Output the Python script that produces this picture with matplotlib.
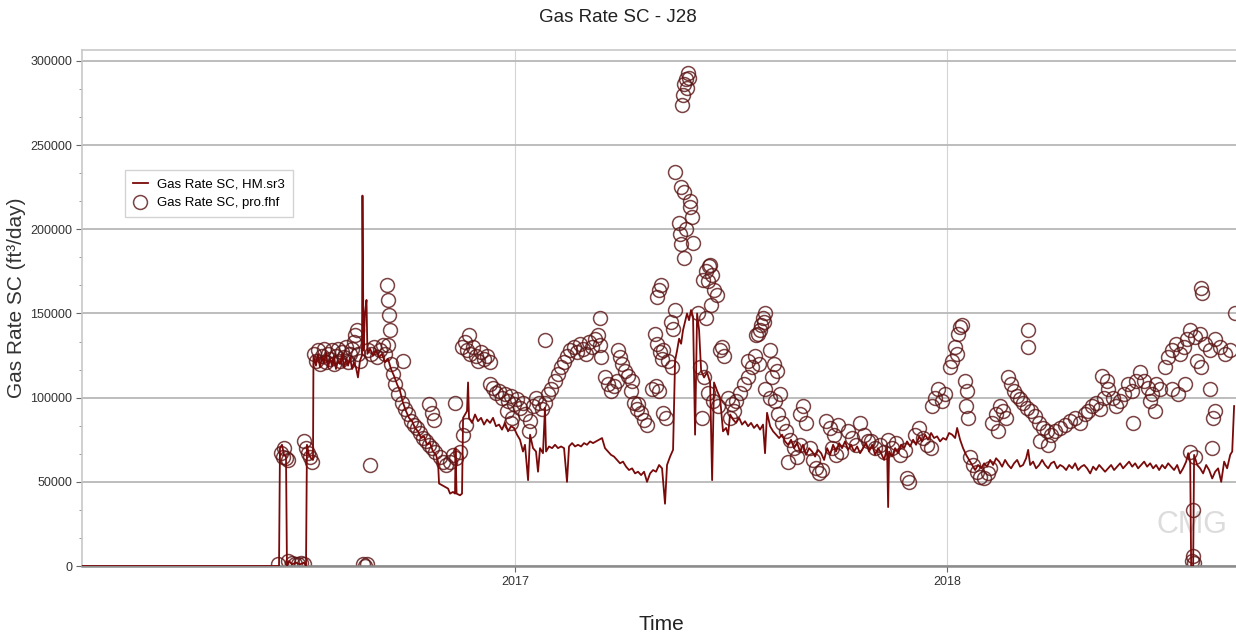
import numpy as np
import pandas as pd
import matplotlib
matplotlib.use("Agg")
import matplotlib.pyplot as plt
from matplotlib.ticker import AutoMinorLocator, MultipleLocator

# Time is kept as days since 2016-01-01, rates in thousand ft3/day
START = "2016-01-01"

# Simulated gas rate (HM.sr3)
hm_days = [
    0, 166.5, 167.3, 169, 170.7, 172.4, 173.2, 174.9, 177.5, 180.8, 184.2, 187.6, 189.3, 190.1, 191.8, 193.5,
    195.2, 195.6, 197.7, 199.4, 201.1, 202.8, 204.5, 206.2, 207.9, 209.6, 211.3, 212.9, 214.6, 216.3, 218,
    219.7, 221.4, 223.1, 224.8, 226.5, 228.2, 229.8, 231.5, 233.2, 234.9, 236.6, 237, 237.9, 239.1, 240.4,
    241.2, 243.4, 245.9, 248.4, 251, 253.5, 256, 258.6, 261.1, 263.6, 266.2, 268.7, 271.2, 273.8, 276.3,
    278.9, 281.4, 283.9, 286.5, 289, 291.5, 294.1, 296.6, 299.1, 300.8, 301.7, 304.2, 306.7, 309.3, 311,
    313.5, 315.2, 315.6, 316.5, 319.4, 321.1, 322, 323.6, 325.3, 326.2, 327, 329.6, 332.1, 334.6, 337.2,
    339.7, 342.2, 344.8, 347.3, 349.8, 352.4, 354.9, 357.4, 360, 362.5, 365, 367.6, 370.1, 372.6, 374.3,
    376.9, 378.6, 381.1, 383.6, 385.3, 387, 389.5, 391.2, 392.1, 394.6, 397.2, 399.7, 402.2, 404.8, 407.3,
    409.8, 411.5, 414.1, 416.6, 419.1, 421.7, 424.2, 426.7, 429.3, 431.8, 434.3, 436.9, 439.4, 441.9, 444.5,
    447, 449.5, 452.1, 454.6, 457.1, 459.7, 462.2, 464.8, 467.3, 469.8, 472.4, 474.9, 477.4, 480, 482.5,
    485, 487.6, 490.1, 492.6, 494.3, 496.9, 499.4, 501.1, 502.8, 504.5, 506.2, 507.8, 509.5, 511.2, 512.9,
    514.6, 516.3, 518, 519.7, 521.4, 523.1, 525.6, 528.1, 530.7, 532.4, 534, 536.6, 539.1, 541.6, 544.2,
    545.9, 547.6, 550.1, 552.6, 555.2, 557.7, 560.2, 562.8, 565.3, 567.8, 570.4, 572.9, 575.4, 577.1, 578.8,
    581.4, 583.9, 586.4, 589, 591.5, 594, 596.6, 599.1, 601.6, 604.2, 606.7, 609.2, 611.8, 614.3, 616.9,
    619.4, 621.9, 624.5, 627, 629.5, 632.1, 634.6, 637.1, 639.7, 642.2, 644.7, 647.3, 649.8, 652.3, 654.9,
    657.4, 659.9, 662.5, 665, 667.6, 670.1, 672.6, 675.2, 677.7, 680.2, 681.1, 681.9, 684.5, 687, 689.5,
    692.1, 694.6, 697.1, 699.7, 702.2, 704.7, 707.3, 709.8, 712.3, 714.9, 717.4, 719.9, 722.5, 725, 727.5,
    730.1, 732.6, 735.2, 737.7, 739.4, 741.9, 744.4, 747, 749.5, 752, 754.6, 757.1, 759.7, 762.2, 764.7,
    767.3, 769.8, 772.3, 774.9, 777.4, 779.9, 782.5, 785, 787.5, 790.1, 792.6, 795.1, 797.7, 799.4, 801.1,
    803.6, 806.1, 808.7, 811.2, 813.7, 816.3, 818.8, 821.3, 823.9, 826.4, 828.9, 831.5, 834, 836.6, 839.1,
    841.6, 844.2, 846.7, 849.2, 851.8, 854.3, 856.8, 859.4, 861.9, 864.4, 867, 869.5, 872, 874.6, 877.1,
    879.6, 882.2, 884.7, 887.3, 889.8, 892.3, 894.9, 897.4, 899.9, 902.5, 905, 907.5, 910.1, 912.6, 915.1,
    917.7, 920.2, 922.7, 925.3, 927.8, 930.3, 932.9, 934.6, 936.3, 937.1, 938.8, 939.6, 942.2, 944.7, 947.2,
    949.8, 952.3, 954.9, 957.4, 959.9, 962.5, 965, 967.5, 970.1, 971.8, 973.4,
]
hm_rate = [
    0, 0, 70, 72, 66, 65, 0, 3, 1, 2, 1, 2, 0, 72, 66, 64,
    63, 125, 119, 126, 118, 124, 120, 127, 118, 123, 119, 125, 117, 122, 120,
    126, 118, 123, 119, 124, 117, 121, 118, 112, 122, 125, 220, 128, 150, 158,
    126, 129, 125, 128, 124, 126, 121, 123, 117, 113, 108, 104, 97, 92, 88,
    86, 82, 80, 76, 77, 72, 73, 68, 66, 62, 49, 48, 47, 46, 43,
    44, 43, 70, 43, 42, 43, 88, 90, 92, 109, 88, 85, 90, 86, 88,
    84, 87, 85, 88, 83, 84, 81, 85, 80, 83, 82, 78, 75, 68, 72,
    51, 78, 70, 68, 56, 70, 67, 94, 68, 71, 70, 72, 70, 71, 70,
    50, 71, 73, 71, 72, 71, 73, 72, 74, 73, 74, 75, 76, 70, 68,
    66, 65, 63, 61, 62, 59, 57, 58, 55, 56, 54, 56, 50, 55, 57,
    56, 60, 58, 37, 60, 65, 69, 122, 128, 135, 132, 140, 145, 150, 146,
    152, 148, 78, 150, 140, 116, 112, 115, 109, 51, 109, 104, 100, 80, 82,
    78, 90, 87, 85, 88, 84, 86, 83, 85, 82, 84, 81, 84, 67, 91,
    83, 80, 78, 76, 78, 74, 72, 75, 70, 73, 68, 72, 66, 70, 68,
    65, 69, 67, 63, 70, 66, 72, 68, 73, 70, 74, 69, 72, 68, 71,
    67, 70, 73, 68, 72, 66, 70, 67, 63, 70, 35, 68, 65, 70, 67,
    72, 70, 74, 71, 75, 72, 77, 74, 78, 75, 79, 76, 77, 74, 76,
    75, 79, 78, 76, 82, 75, 70, 66, 63, 60, 57, 60, 58, 61, 59,
    63, 60, 64, 62, 59, 63, 60, 58, 61, 63, 59, 60, 64, 69, 60,
    62, 58, 60, 63, 60, 58, 61, 62, 58, 60, 59, 57, 60, 58, 61,
    57, 59, 60, 58, 55, 59, 57, 60, 58, 56, 58, 60, 57, 59, 61,
    58, 60, 62, 59, 61, 58, 60, 62, 59, 61, 58, 60, 57, 60, 58,
    61, 59, 57, 60, 55, 58, 62, 67, 62, 0, 0, 66, 60, 58, 55,
    60, 57, 52, 56, 58, 50, 62, 58, 66, 68, 95,
]

# Measured gas rate (pro.fhf)
obs_days = [
    168.2, 169.8, 170.7, 172.4, 174.1, 165.6, 174.1, 177.5, 180, 182.5, 185.1, 187.6, 187.6, 189.3, 191, 192.7,
    194.4, 196, 197.7, 199.4, 201.1, 202.8, 204.5, 206.2, 207.9, 209.6, 211.3, 212.9, 214.6, 216.3, 218,
    219.7, 221.4, 223.1, 224.8, 226.5, 228.2, 229.8, 230.7, 232.4, 233.2, 234.9, 237.4, 239.1, 240.8, 243.4,
    241.7, 244.2, 246.7, 249.3, 251.8, 254.3, 256, 257.7, 258.6, 259.4, 260.3, 258.6, 261.1, 262.8, 264.5,
    267, 271.2, 270.4, 272.9, 275.5, 278, 280.5, 283.1, 285.6, 288.1, 290.7, 293.2, 295.8, 298.3, 293.2,
    295.8, 297.4, 302.5, 305, 307.6, 311, 313.5, 316, 319.4, 315.2, 322, 324.5, 321.1, 323.6, 325.3, 327,
    327.9, 330.4, 332.9, 334.6, 337.2, 339.7, 342.2, 344.8, 344.8, 347.3, 349.8, 352.4, 354.9, 357.4, 360,
    362.5, 365, 367.6, 370.1, 372.6, 359.1, 363.4, 362.5, 374.3, 377.7, 378.6, 381.1, 383.6, 386.2, 388.7,
    391.2, 391.2, 393.8, 396.3, 399.7, 402.2, 404.8, 407.3, 409.8, 412.4, 415.7, 418.3, 420.8, 423.3, 425.9,
    428.4, 431, 433.5, 436, 437.7, 437.7, 438.6, 441.9, 444.5, 447, 449.5, 452.1, 452.9, 454.6, 456.3,
    458.8, 461.4, 463.9, 466.4, 469, 464.8, 469.8, 472.4, 474.9, 477.4, 481.7, 485, 487.6, 490.9, 493.5,
    484.2, 485.9, 488.4, 490.1, 485.9, 487.6, 489.3, 497.7, 499.4, 501.1, 490.9, 495.2, 498.6, 501.1, 506.2,
    508.7, 513.8, 513.8, 515.5, 516.3, 504.5, 505.3, 506.2, 508.7, 510.4, 507, 507.8, 508.7, 510.4, 512.1,
    512.9, 511.2, 524.7, 527.3, 529.8, 530.7, 532.4, 529, 534, 536.6, 531.5, 527.3, 520.5, 522.2, 525.6,
    523.9, 529, 533.2, 537.4, 539.1, 540.8, 542.5, 545.9, 549.3, 547.6, 550.9, 552.6, 556, 559.4, 562.8,
    562.8, 566.2, 568.7, 572.1, 569.5, 571.2, 572.9, 573.8, 575.4, 576.3, 577.1, 581.4, 584.7, 587.3, 583.1,
    577.1, 581.4, 585.6, 589.8, 588.1, 591.5, 594.9, 598.3, 601.6, 604.2, 596.6, 606.7, 606.7, 609.2, 611.8,
    615.2, 617.7, 620.2, 622.8, 625.3, 628.7, 632.1, 635.4, 638.8, 633.8, 637.1, 641.4, 647.3, 650.7, 654,
    657.4, 660.8, 664.2, 666.7, 670.1, 674.3, 677.7, 681.1, 684.5, 687.8, 691.2, 695.4, 697.1, 698.8, 703.9,
    707.3, 710.6, 714, 717.4, 718.3, 720.8, 723.3, 726.7, 729.2, 733.4, 735.2, 737.7, 739.4, 740.2, 741.9,
    743.6, 746.1, 747.8, 747, 748.7, 750.4, 752.9, 756.3, 758.8, 762.2, 765.6, 767.3, 768.9, 772.3, 775.7,
    778.2, 780.8, 774, 799.4, 799.4, 782.5, 785, 787.5, 790.1, 792.6, 795.1, 798.5, 801.9, 805.3, 808.7,
    812, 815.4, 818.8, 809.5, 816.3, 822.2, 826.4, 830.6, 834.9, 839.1, 843.3, 847.5, 850.1, 853.5, 856.8,
    860.2, 863.6, 867, 861.9, 866.1, 871.2, 873.7, 877.1, 880.5, 883.9, 887.3, 890.6, 888.1, 894, 897.4,
    900.8, 904.2, 907.5, 910.9, 902.5, 906.7, 915.1, 917.7, 921.1, 924.4, 927.8, 931.2, 933.7, 921.1, 926.2,
    932, 936.3, 940.5, 944.7, 948.9, 953.2, 957.4, 961.6, 965.8, 970.1, 942.2, 945.6, 953.2, 957.4, 955.7,
    945.6, 946.4, 974.3, 940.5, 936.3, 954.9, 937.9, 939.6, 938.8, 938.8,
]
obs_rate = [
    67, 65, 70, 64, 63, 1, 3, 1.5, 1, 1, 1.5, 1, 74, 70, 67, 65,
    62, 126, 122, 128, 120, 125, 129, 121, 126, 123, 128, 120, 125, 129, 122,
    127, 124, 130, 121, 126, 129, 133, 137, 140, 126, 122, 1, 0, 1, 60,
    128, 126, 130, 124, 128, 131, 126, 167, 158, 149, 140, 131, 120, 114, 108,
    102, 122, 97, 93, 90, 86, 84, 82, 79, 76, 74, 72, 70, 68, 96,
    91, 87, 65, 62, 60, 62, 66, 64, 68, 97, 78, 84, 130, 133, 128, 137,
    126, 130, 125, 122, 127, 123, 125, 121, 108, 106, 103, 104, 100, 102, 98,
    101, 96, 99, 94, 97, 92, 88, 85, 90, 80, 86, 95, 100, 97, 93,
    134, 97, 102, 105, 110, 114, 118, 121, 125, 128, 130, 127, 132, 129, 126,
    133, 130, 135, 137, 131, 147, 124, 112, 108, 104, 107, 110, 128, 124, 120,
    116, 113, 104, 97, 93, 110, 96, 91, 87, 84, 105, 107, 104, 91, 88,
    138, 132, 127, 123, 160, 164, 167, 145, 141, 152, 128, 122, 118, 234, 225,
    222, 217, 213, 207, 192, 204, 197, 191, 183, 200, 274, 280, 286, 289, 293,
    290, 284, 170, 175, 178, 179, 173, 169, 164, 161, 155, 147, 150, 118, 112,
    88, 103, 98, 95, 128, 130, 125, 100, 96, 88, 92, 98, 103, 108, 112,
    122, 118, 125, 120, 137, 138, 140, 143, 147, 145, 150, 128, 120, 116, 112,
    105, 100, 98, 102, 90, 85, 80, 75, 70, 65, 62, 72, 90, 95, 85,
    70, 63, 58, 55, 57, 86, 82, 78, 84, 70, 66, 68, 80, 76, 72,
    85, 78, 74, 74, 70, 72, 68, 75, 70, 73, 66, 69, 52, 50, 78,
    82, 76, 72, 70, 95, 100, 105, 98, 102, 118, 122, 130, 126, 138, 142,
    143, 110, 104, 95, 88, 65, 60, 56, 53, 52, 55, 58, 85, 90, 95,
    92, 88, 80, 140, 130, 112, 108, 104, 101, 99, 97, 94, 92, 89, 85,
    82, 80, 78, 74, 72, 80, 82, 84, 86, 88, 85, 90, 92, 95, 97,
    93, 100, 105, 113, 110, 100, 95, 98, 102, 108, 104, 110, 85, 115, 110,
    106, 102, 108, 105, 98, 92, 118, 124, 128, 132, 126, 130, 135, 105, 102,
    108, 140, 136, 138, 132, 128, 135, 130, 126, 128, 122, 118, 105, 92, 88,
    165, 162, 150, 65, 68, 70, 3, 2, 33, 6,
]

year_ticks = ["2017-01-01", "2018-01-01"]
year_labels = ["2017", "2018"]


def main():
    plt.rcParams["font.family"] = ["Liberation Sans", "DejaVu Sans"]

    t0 = pd.Timestamp(START)
    hm_t = t0 + pd.to_timedelta(hm_days, unit="D")
    obs_t = t0 + pd.to_timedelta(obs_days, unit="D")
    hm_q = np.array(hm_rate) * 1000.0
    obs_q = np.array(obs_rate) * 1000.0

    fig = plt.figure(figsize=(12.36, 6.4), dpi=100)
    ax = fig.add_axes([0.0663, 0.1156, 0.9337, 0.8064])

    line_col = "#7a0a0a"
    ax.plot(hm_t, hm_q, "-", color=line_col, linewidth=1.3, zorder=3,
            label="Gas Rate SC, HM.sr3")
    ax.plot(obs_t, obs_q, "o", markerfacecolor="none", markeredgecolor="#5a1414",
            markeredgewidth=1.1, markersize=10, alpha=0.8, zorder=2,
            label="Gas Rate SC, pro.fhf")

    ax.set_xlim(t0, t0 + pd.Timedelta(days=975))
    ax.set_ylim(0, 306500)

    ax.set_xticks(pd.to_datetime(year_ticks))
    ax.set_xticklabels(year_labels)
    ax.yaxis.set_major_locator(MultipleLocator(50000))
    ax.yaxis.set_minor_locator(AutoMinorLocator(3))
    ax.tick_params(axis="both", which="major", labelsize=9, colors="#666666",
                   labelcolor="#333333", length=4, width=0.8, pad=3)
    ax.tick_params(axis="y", which="minor", length=2, colors="#888888")

    ax.grid(axis="y", which="major", color="#b8b8b8", linewidth=1.3)
    ax.grid(axis="x", which="major", color="#d4d4d4", linewidth=0.8)
    ax.set_axisbelow(True)

    for side in ["left", "top"]:
        ax.spines[side].set_color("#c8c8c8")
        ax.spines[side].set_linewidth(1.2)
    ax.spines["bottom"].set_color("#8c8c8c")
    ax.spines["bottom"].set_linewidth(1.8)
    ax.spines["right"].set_visible(False)

    fig.text(0.5, 0.972, "Gas Rate SC - J28", ha="center", va="center",
             fontsize=13.5, color="#222222")
    ax.set_xlabel("Time", fontsize=15, color="#222222")
    ax.xaxis.set_label_coords(0.502, -0.095)
    fig.text(0.013, 0.535, "Gas Rate SC (ft³/day)", rotation=90, ha="center", va="center",
             fontsize=15, color="#333333")

    # faint simulator watermark in the lower right corner
    ax.text(0.962, 0.08, "CMG", transform=ax.transAxes, ha="center", va="center",
            fontsize=22, color="#dcdcdc", zorder=1)

    leg = ax.legend(loc="upper left", bbox_to_anchor=(0.096, 0.744),
                    bbox_transform=fig.transFigure, fontsize=9.5, frameon=True,
                    fancybox=False, edgecolor="#c8c8c8", handlelength=1.1,
                    borderpad=0.6, labelspacing=0.5, handletextpad=0.7)
    leg.get_frame().set_linewidth(1.0)

    fig.savefig("out.png", dpi=100)


if __name__ == "__main__":
    main()
